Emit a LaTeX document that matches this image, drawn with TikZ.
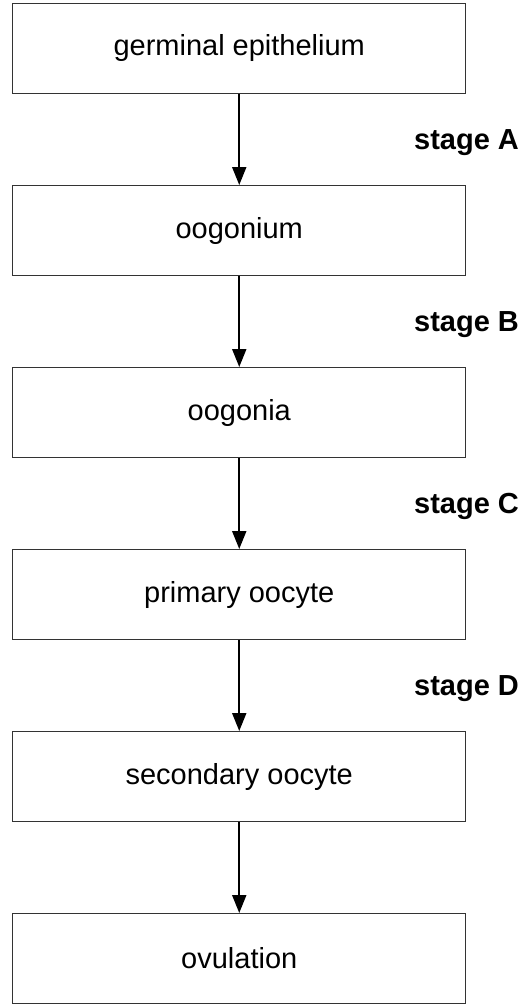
\documentclass[tikz,border=0pt]{standalone}
\usepackage{fontspec}
\setmainfont{Liberation Sans}
\usetikzlibrary{arrows.meta,positioning}

\begin{document}
\begin{tikzpicture}[x=1pt, y=1pt,
  stagebox/.style={draw=black!80, line width=1pt, minimum width=453pt, minimum height=90pt,
    inner sep=0pt, font=\fontsize{29}{34}\selectfont},
  flow/.style={-{Triangle[length=18pt, width=14pt]}, line width=2pt},
  stagelabel/.style={anchor=east, xshift=284pt, yshift=-3pt, font=\bfseries\fontsize{29}{34}\selectfont}]

  \def\gap{91pt}
  \useasboundingbox (0,0) rectangle (522,-1004);

  % the six boxes, top to bottom
  \node[stagebox] (germ) at (239.25,-48.5) {germinal epithelium};
  \node[stagebox, below=\gap of germ] (oogonium) {oogonium};
  \node[stagebox, below=\gap of oogonium] (oogonia) {oogonia};
  \node[stagebox, below=\gap of oogonia] (primary) {primary oocyte};
  \node[stagebox, below=\gap of primary] (secondary) {secondary oocyte};
  \node[stagebox, below=\gap of secondary] (ovulation) {ovulation};

  % arrows with the stage labels at the right edge
  \draw[flow] (germ) -- node[stagelabel] (stageA) {stage A} (oogonium);
  \draw[flow] (oogonium) -- node[stagelabel] (stageB) {stage B} (oogonia);
  \draw[flow] (oogonia) -- node[stagelabel] (stageC) {stage C} (primary);
  \draw[flow] (primary) -- node[stagelabel] (stageD) {stage D} (secondary);
  \draw[flow] (secondary) -- (ovulation);

\end{tikzpicture}
\end{document}
